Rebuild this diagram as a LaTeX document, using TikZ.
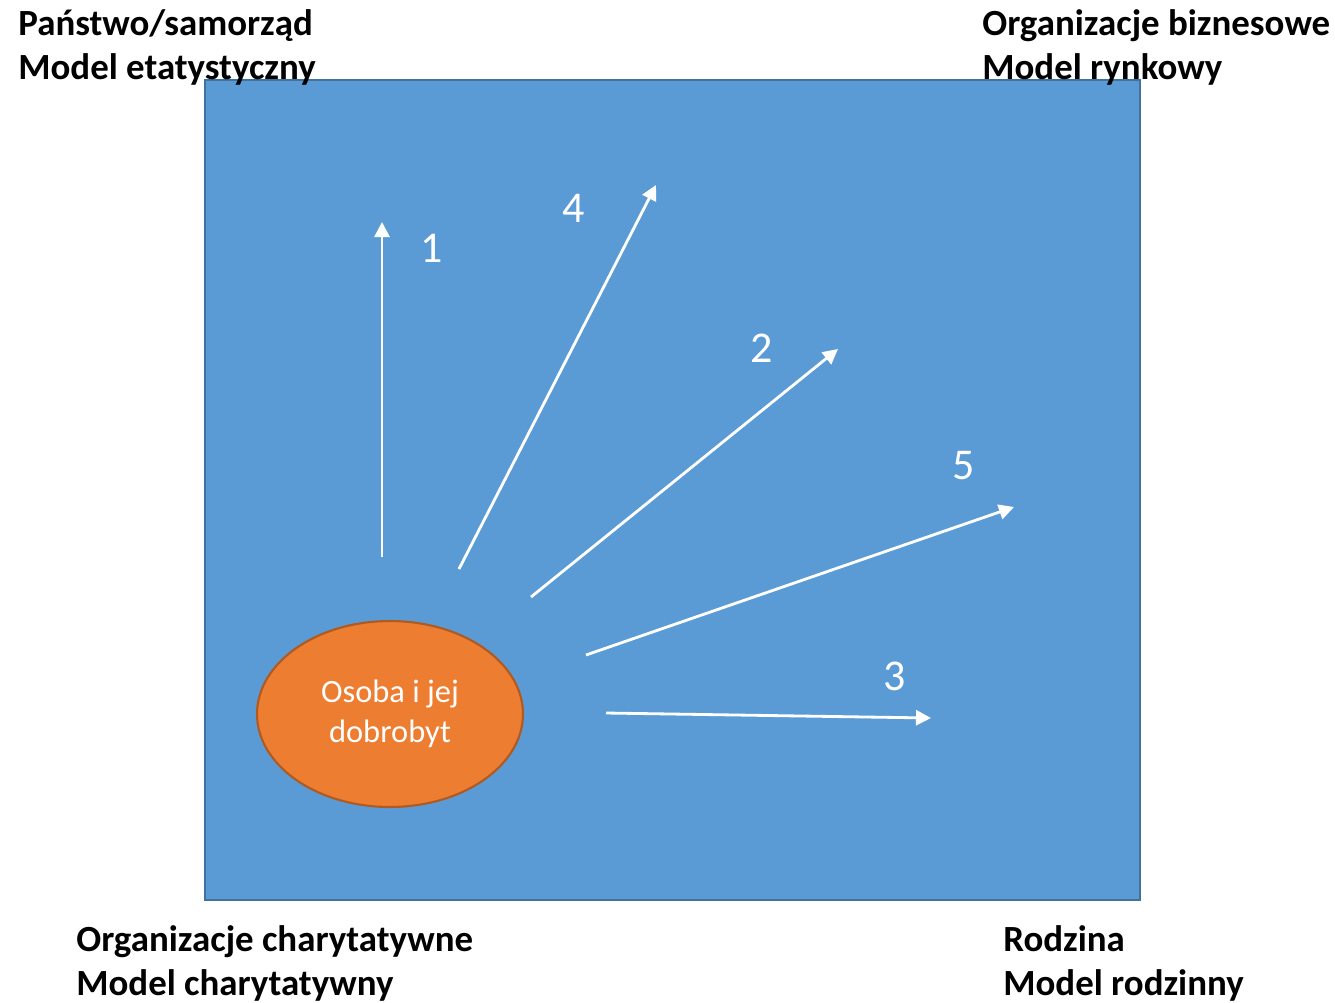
\documentclass[tikz,border=0pt]{standalone}
\usepackage{fontspec}
\setmainfont{Carlito}
\usepackage{tikz}
\usetikzlibrary{positioning, arrows.meta, shapes.geometric}

\definecolor{boxblue}{HTML}{5B9BD5}
\definecolor{boxedge}{HTML}{41719C}
\definecolor{personfill}{HTML}{ED7D31}
\definecolor{personedge}{HTML}{AE5A21}

\tikzset{
  corner/.style={inner sep=0pt, align=left, font=\fontsize{21}{25}\selectfont\bfseries},
  flow/.style={draw=white, line width=1.6pt, -{Triangle[length=0.3cm,width=0.3cm]}},
  num/.style={text=white, font=\fontsize{25}{30}\selectfont}
}

\begin{document}
\begin{tikzpicture}[x=0.02cm, y=-0.02cm]
            \useasboundingbox (0,0) rectangle (1335,1002);
            \draw[fill=boxblue, draw=boxedge, line width=1.2pt] (205,80) rectangle (1140,900);

            \node[draw=personedge, fill=personfill, line width=1.2pt, ellipse,
                  minimum width=5.32cm, minimum height=3.72cm, text=white, align=center,
                  font=\fontsize{18.5}{22.5}\selectfont] (osoba) at (390,714) {Osoba i jej\\dobrobyt};

            \node[corner, anchor=north west] (panstwo) at (18,9) {Państwo/samorząd\\Model etatystyczny};
            \node[corner, anchor=north west] (biznes) at (982,9) {Organizacje biznesowe\\Model rynkowy};
            \node[corner, anchor=north west] (charyt) at (76,925) {Organizacje charytatywne\\Model charytatywny};
            \node[corner, anchor=north west] (rodzina) at (1003,925) {Rodzina\\Model rodzinny};

            \coordinate (s1) at (382,557);
            \coordinate (e1) at (382,222);
            \coordinate (s4) at (459,569);
            \coordinate (e4) at (656,185);
            \coordinate (s2) at (531,597);
            \coordinate (e2) at (838,349);
            \coordinate (s5) at (586,655);
            \coordinate (e5) at (1014,507);
            \coordinate (s3) at (606,713);
            \coordinate (e3) at (931,718);

            \draw[flow] (s1) -- (e1);
            \draw[flow] (s4) -- (e4);
            \draw[flow] (s2) -- (e2);
            \draw[flow] (s5) -- (e5);
            \draw[flow] (s3) -- (e3);

            \node[num] (n1) at (432,248) {1};
            \node[num] (n4) at (574,208) {4};
            \node[num] (n2) at (762,348) {2};
            \node[num] (n5) at (964,466) {5};
            \node[num] (n3) at (895,676) {3};
          \end{tikzpicture}
\end{document}
